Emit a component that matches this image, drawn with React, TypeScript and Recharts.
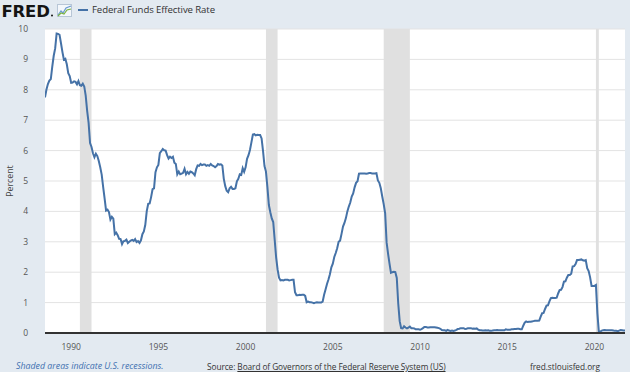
import React from "react";
import { ComposedChart, Line, XAxis, YAxis, CartesianGrid, ReferenceArea } from "recharts";

// Federal Funds Effective Rate, monthly, starting July 1988
const startYear = 1988;
const startMonth = 7;
const rates: number[] = [
  // 1988 (Jul-Dec)
  7.75, 8.01, 8.19, 8.30, 8.35, 8.76,
  // 1989
  9.12, 9.36, 9.85, 9.84, 9.81, 9.53, 9.24, 8.99, 9.02, 8.84, 8.55, 8.45,
  // 1990
  8.23, 8.24, 8.28, 8.26, 8.18, 8.29, 8.15, 8.13, 8.20, 8.11, 7.81, 7.31,
  // 1991
  6.91, 6.25, 6.12, 5.91, 5.78, 5.90, 5.82, 5.66, 5.45, 5.21, 4.81, 4.43,
  // 1992
  4.03, 4.06, 3.98, 3.73, 3.82, 3.76, 3.25, 3.30, 3.22, 3.10, 3.09, 2.92,
  // 1993
  3.02, 3.03, 3.07, 2.96, 3.00, 3.04, 3.06, 3.03, 3.09, 2.99, 3.02, 2.96,
  // 1994
  3.05, 3.25, 3.34, 3.56, 4.01, 4.25, 4.26, 4.47, 4.73, 4.76, 5.29, 5.45,
  // 1995
  5.53, 5.92, 5.98, 6.05, 6.01, 6.00, 5.85, 5.74, 5.80, 5.76, 5.80, 5.60,
  // 1996
  5.56, 5.22, 5.31, 5.22, 5.24, 5.27, 5.40, 5.22, 5.30, 5.24, 5.31, 5.29,
  // 1997
  5.25, 5.19, 5.39, 5.51, 5.50, 5.56, 5.52, 5.54, 5.54, 5.50, 5.52, 5.50,
  // 1998
  5.56, 5.51, 5.49, 5.45, 5.49, 5.56, 5.54, 5.55, 5.51, 5.07, 4.83, 4.68,
  // 1999
  4.63, 4.76, 4.81, 4.74, 4.74, 4.76, 4.99, 5.07, 5.22, 5.20, 5.42, 5.30,
  // 2000
  5.45, 5.73, 5.85, 6.02, 6.27, 6.53, 6.54, 6.50, 6.52, 6.51, 6.51, 6.40,
  // 2001
  5.98, 5.49, 5.31, 4.80, 4.21, 3.97, 3.77, 3.65, 3.07, 2.49, 2.09, 1.82,
  // 2002
  1.73, 1.74, 1.73, 1.75, 1.75, 1.75, 1.73, 1.74, 1.75, 1.75, 1.34, 1.24,
  // 2003
  1.24, 1.26, 1.25, 1.26, 1.26, 1.22, 1.01, 1.03, 1.01, 1.01, 1.00, 0.98,
  // 2004
  1.00, 1.01, 1.00, 1.00, 1.00, 1.03, 1.26, 1.43, 1.61, 1.76, 1.93, 2.16,
  // 2005
  2.28, 2.50, 2.63, 2.79, 3.00, 3.04, 3.26, 3.50, 3.62, 3.78, 4.00, 4.16,
  // 2006
  4.29, 4.49, 4.59, 4.79, 4.94, 4.99, 5.24, 5.25, 5.25, 5.25, 5.25, 5.24,
  // 2007
  5.25, 5.26, 5.26, 5.25, 5.25, 5.25, 5.26, 5.02, 4.94, 4.76, 4.49, 4.24,
  // 2008
  3.94, 2.98, 2.61, 2.28, 1.98, 2.00, 2.01, 2.00, 1.81, 0.97, 0.39, 0.16,
  // 2009
  0.15, 0.22, 0.18, 0.15, 0.18, 0.21, 0.16, 0.16, 0.15, 0.12, 0.12, 0.12,
  // 2010
  0.11, 0.13, 0.16, 0.20, 0.20, 0.18, 0.18, 0.19, 0.19, 0.19, 0.19, 0.18,
  // 2011
  0.17, 0.16, 0.14, 0.10, 0.09, 0.09, 0.07, 0.10, 0.08, 0.07, 0.08, 0.07,
  // 2012
  0.08, 0.10, 0.13, 0.14, 0.16, 0.16, 0.16, 0.13, 0.14, 0.16, 0.16, 0.16,
  // 2013
  0.14, 0.15, 0.14, 0.15, 0.11, 0.09, 0.09, 0.08, 0.08, 0.09, 0.08, 0.09,
  // 2014
  0.07, 0.07, 0.08, 0.09, 0.09, 0.10, 0.09, 0.09, 0.09, 0.09, 0.09, 0.12,
  // 2015
  0.11, 0.11, 0.11, 0.12, 0.12, 0.13, 0.13, 0.14, 0.14, 0.12, 0.12, 0.24,
  // 2016
  0.34, 0.38, 0.36, 0.37, 0.37, 0.38, 0.39, 0.40, 0.40, 0.40, 0.41, 0.54,
  // 2017
  0.65, 0.66, 0.79, 0.90, 0.91, 1.04, 1.15, 1.16, 1.15, 1.15, 1.16, 1.30,
  // 2018
  1.41, 1.42, 1.51, 1.69, 1.70, 1.82, 1.91, 1.91, 1.95, 2.19, 2.20, 2.27,
  // 2019
  2.40, 2.40, 2.41, 2.42, 2.39, 2.38, 2.40, 2.13, 2.04, 1.83, 1.55, 1.55,
  // 2020
  1.55, 1.58, 0.65, 0.05, 0.05, 0.08, 0.09, 0.10, 0.09, 0.09, 0.09, 0.09,
  // 2021 (Jan-Oct)
  0.09, 0.08, 0.07, 0.07, 0.06, 0.08, 0.10, 0.09, 0.08, 0.08,
];

// Recession periods (start, end) as fractional years
const recessionStarts = [1990.5, 2001.167, 2007.917, 2020.083];
const recessionEnds = [1991.167, 2001.833, 2009.417, 2020.25];

const xTicks = [1990, 1995, 2000, 2005, 2010, 2015, 2020];
const yTicks = [0, 1, 2, 3, 4, 5, 6, 7, 8, 9, 10];
const xDomain = [1988.5, 2021.75];

const logoText = "FRED";
const seriesName = "Federal Funds Effective Rate";
const yLabel = "Percent";
const footerLeft = "Shaded areas indicate U.S. recessions.";
const footerSourcePrefix = "Source: ";
const footerSource = "Board of Governors of the Federal Reserve System (US)";
const footerRight = "fred.stlouisfed.org";

const data = rates.map((v, i) => {
  const m = startMonth - 1 + i;
  return { t: startYear + m / 12, rate: v };
});

const FONT = "'Open Sans', 'Noto Sans', sans-serif";
const LINE = "#4572a7";

export default function App() {
  return (
    <div
      style={{
        position: "absolute",
        left: 0,
        top: 0,
        width: 630,
        height: 372,
        background: "#e3eaf1",
        fontFamily: FONT,
        overflow: "hidden",
      }}
    >
      {/* FRED logo + legend */}
      <svg style={{ position: "absolute", left: 0, top: 0 }} width={56} height={22}>
        <text
          x={1.5}
          y={16.5}
          fontFamily="'DejaVu Sans', sans-serif"
          fontWeight={900}
          fontSize={16.5}
          letterSpacing={-0.2}
          fill="#141414"
        >
          {logoText}
        </text>
        <circle cx={52} cy={15.5} r={1} fill="#141414" />
      </svg>
      <svg style={{ position: "absolute", left: 57, top: 4 }} width={15} height={13}>
        <rect x={0.5} y={0.5} width={14} height={12} fill="#f4f7fb" stroke="#b8c6d6" strokeWidth={1} />
        <polyline points="1,11 4,7 6,9 9,4 14,2" fill="none" stroke="#6a9ad0" strokeWidth={1.2} />
        <polyline points="1,12 4,9 7,10 10,6 14,5" fill="none" stroke="#7cb342" strokeWidth={1.2} />
      </svg>
      <div
        style={{
          position: "absolute",
          left: 78,
          top: 9,
          width: 10,
          height: 2,
          background: LINE,
        }}
      />
      <div
        style={{
          position: "absolute",
          left: 92,
          top: 2,
          fontSize: 9.6,
          letterSpacing: -0.1,
          color: "#333",
          lineHeight: "15px",
          whiteSpace: "nowrap",
        }}
      >
        {seriesName}
      </div>

      {/* Y axis label */}
      <div
        style={{
          position: "absolute",
          left: 10,
          top: 181,
          transform: "translate(-50%, -50%) rotate(-90deg)",
          fontSize: 8.8,
          color: "#444",
          whiteSpace: "nowrap",
        }}
      >
        {yLabel}
      </div>

      <div style={{ position: "absolute", left: 0, top: 0 }}>
        <ComposedChart
          width={630}
          height={372}
          data={data}
          margin={{ top: 29, right: 5, bottom: 19, left: 0 }}
        >
          <CartesianGrid
            vertical={false}
            stroke="#e3e3e3"
            fill="#ffffff"
            strokeDasharray=""
          />
          {recessionStarts.map((s, i) => (
            <ReferenceArea
              key={i}
              x1={s}
              x2={recessionEnds[i]}
              fill="#e0e0e0"
              fillOpacity={1}
              stroke="none"
            />
          ))}
          <XAxis
            dataKey="t"
            type="number"
            domain={xDomain}
            ticks={xTicks}
            allowDataOverflow
            tickLine={false}
            axisLine={{ stroke: "#333", strokeWidth: 2 }}
            height={20}
            tickMargin={5}
            tick={{ fontSize: 8.5, fill: "#555", fontFamily: FONT }}
          />
          <YAxis
            type="number"
            domain={[0, 10]}
            ticks={yTicks}
            width={45}
            axisLine={false}
            tickLine={false}
            tickMargin={11}
            tick={{ fontSize: 8.5, fill: "#555", fontFamily: FONT }}
          />
          <Line
            type="linear"
            dataKey="rate"
            stroke={LINE}
            strokeWidth={2}
            dot={false}
            isAnimationActive={false}
          />
        </ComposedChart>
      </div>

      {/* Footer */}
      <div
        style={{
          position: "absolute",
          left: 16,
          top: 360,
          fontSize: 8.8,
          fontStyle: "italic",
          color: "#3d6fb0",
          whiteSpace: "nowrap",
          lineHeight: "13px",
        }}
      >
        {footerLeft}
      </div>
      <div
        style={{
          position: "absolute",
          left: 207,
          top: 360,
          fontSize: 8.3,
          letterSpacing: -0.08,
          color: "#333",
          whiteSpace: "nowrap",
          lineHeight: "13px",
        }}
      >
        {footerSourcePrefix}
        <span style={{ textDecoration: "underline" }}>{footerSource}</span>
      </div>
      <div
        style={{
          position: "absolute",
          left: 530,
          top: 360,
          fontSize: 8.3,
          letterSpacing: -0.05,
          color: "#333",
          whiteSpace: "nowrap",
          lineHeight: "13px",
        }}
      >
        {footerRight}
      </div>
    </div>
  );
}
